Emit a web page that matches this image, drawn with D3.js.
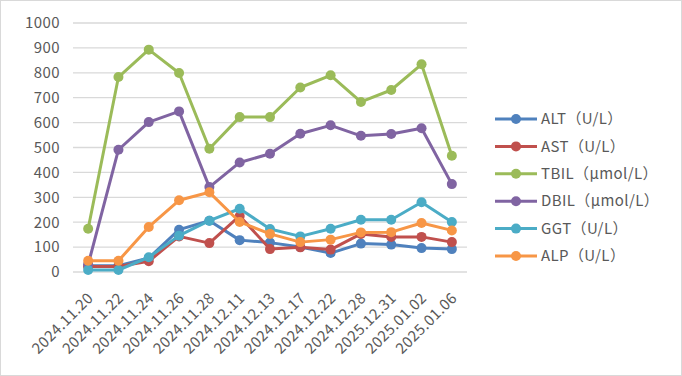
<!DOCTYPE html>
<html>
<head>
<meta charset="utf-8">
<script src="https://cdn.jsdelivr.net/npm/d3@7"></script>
<style>
  body { margin: 0; background: #fff; }
  svg { display: block; font-family: "Noto Sans CJK SC", "Noto Sans", sans-serif; }
</style>
</head>
<body>
<svg id="chart" width="682" height="376"></svg>
<script>
const dates = ['2024.11.20','2024.11.22','2024.11.24','2024.11.26','2024.11.28','2024.12.11',
  '2024.12.13','2024.12.17','2024.12.22','2024.12.28','2025.12.31','2025.01.02','2025.01.06'];
const seriesNames = ['ALT（U/L）','AST（U/L）','TBIL（μmol/L）','DBIL（μmol/L）','GGT（U/L）','ALP（U/L）'];
const alt  = [25, 25, 56, 170, 206, 128, 118, 100, 76, 114, 110, 96, 92];
const ast  = [22, 22, 43, 143, 116, 225, 92, 99, 90, 153, 141, 141, 120];
const tbil = [174, 783, 893, 799, 495, 622, 622, 741, 790, 683, 731, 834, 467];
const dbil = [30, 491, 602, 645, 341, 440, 475, 555, 589, 547, 554, 577, 353];
const ggt  = [8, 8, 59, 146, 206, 254, 173, 143, 174, 210, 210, 280, 201];
const alp  = [45, 45, 181, 288, 320, 201, 153, 120, 130, 159, 160, 197, 167];
const yTicks = [0,100,200,300,400,500,600,700,800,900,1000];
const colors = ['#4F81BD','#C0504D','#9BBB59','#8064A2','#4BACC6','#F79646'];

const series = [alt, ast, tbil, dbil, ggt, alp].map((values, i) => ({
  name: seriesNames[i], color: colors[i], values
}));

let svg = d3.select('#chart');
let width = 682, height = 376;
let margin = { left: 73, right: 215, top: 23, bottom: 104 };

// outer border
svg.append('rect')
  .attr('x', 0.5).attr('y', 0.5)
  .attr('width', width - 1).attr('height', height - 1)
  .attr('fill', '#fff').attr('stroke', '#d9d9d9');

let x = d3.scaleBand()
  .domain(dates)
  .range([margin.left, width - margin.right]);

let y = d3.scaleLinear()
  .domain([0, 1000])
  .range([height - margin.bottom, margin.top]);

// gridlines
svg.append('g')
  .selectAll('line').data(yTicks).enter().append('line')
  .attr('x1', margin.left).attr('x2', width - margin.right)
  .attr('y1', d => y(d)).attr('y2', d => y(d))
  .attr('stroke', '#d9d9d9').attr('stroke-width', 1.3);

let labelStyle = sel => sel
  .attr('fill', '#595959').style('font-size', '15px')
  .style('letter-spacing', '0.4px')
  .style('font-family', '"Noto Sans CJK SC", sans-serif');

let yAxis = d3.axisLeft(y).tickValues(yTicks).tickFormat(d3.format('d')).tickSize(0).tickPadding(13);
svg.append('g')
  .attr('transform', `translate(${margin.left},0)`)
  .call(yAxis)
  .call(g => g.select('.domain').remove())
  .selectAll('text')
  .call(labelStyle);

let xAxis = d3.axisBottom(x).tickSize(0).tickPadding(0);
svg.append('g')
  .attr('transform', `translate(0,${height - margin.bottom})`)
  .call(xAxis)
  .call(g => g.select('.domain').remove())
  .selectAll('text')
  .call(labelStyle)
  .attr('text-anchor', 'end')
  .attr('dy', null).attr('y', 0)
  .attr('transform', 'translate(6,27) rotate(-45)');

let cx = d => x(d) + x.bandwidth() / 2;
let line = d3.line()
  .x((v, i) => cx(dates[i]))
  .y(v => y(v));

let plot = svg.append('g');
series.forEach(s => {
  let g = plot.append('g');
  g.append('path')
    .attr('d', line(s.values))
    .attr('fill', 'none')
    .attr('stroke', s.color)
    .attr('stroke-width', 3)
    .attr('stroke-linejoin', 'round');
  g.selectAll('circle').data(s.values).enter().append('circle')
    .attr('cx', (v, i) => cx(dates[i]))
    .attr('cy', v => y(v))
    .attr('r', 5)
    .attr('fill', s.color);
});

// legend
let legend = svg.append('g').attr('transform', 'translate(495,119)');
let item = legend.selectAll('g').data(series).enter().append('g')
  .attr('transform', (d, i) => `translate(0,${i * 27.4})`);
item.append('line')
  .attr('x1', 0).attr('x2', 42)
  .attr('stroke', d => d.color).attr('stroke-width', 3);
item.append('circle')
  .attr('cx', 21).attr('r', 5).attr('fill', d => d.color);
item.append('text')
  .attr('x', 46).attr('dy', '0.35em')
  .call(labelStyle)
  .text(d => d.name);
</script>
</body>
</html>
